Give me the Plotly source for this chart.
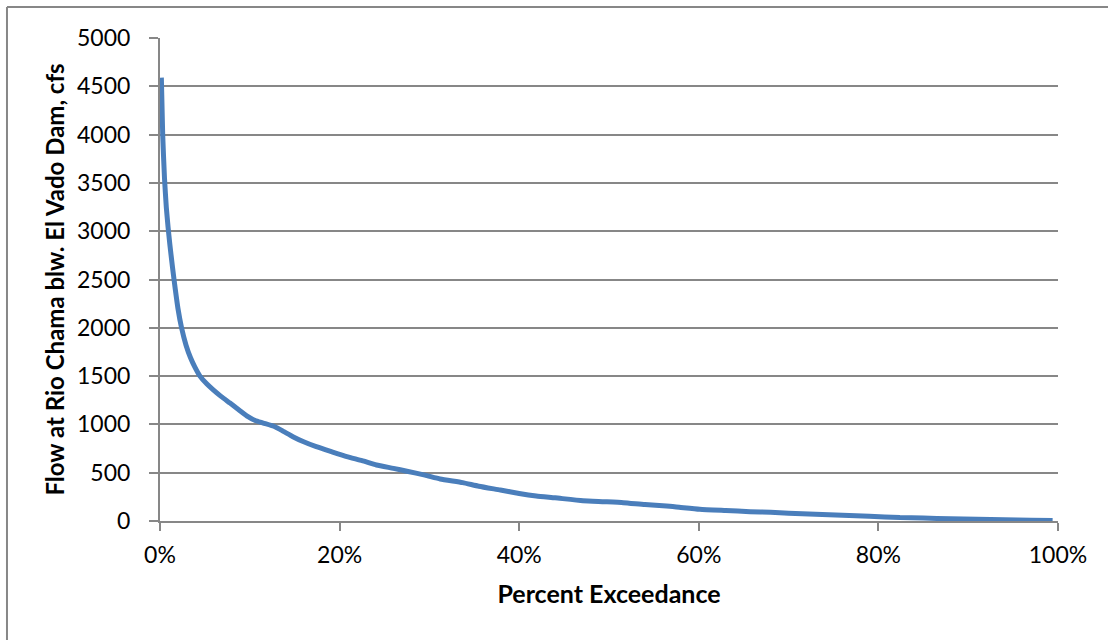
import plotly.graph_objects as go

# Flow duration curve: percent of time a flow is equalled or exceeded
exceedance_pct = [0.15, 0.3, 0.5, 0.7, 0.9, 1.1, 1.4, 1.7, 2.0, 2.4, 2.9, 3.4, 3.9, 4.45,
                  5.2, 5.9, 6.8, 7.8, 8.8, 9.8, 10.6, 11.5, 12.8, 13.8, 14.8, 16, 17.4,
                  19, 20.8, 22.5, 24.1, 26, 27.5, 29.5, 31.2, 33.7, 35.5, 37.9, 40, 41.9,
                  44, 47.1, 49.5, 51.6, 54, 56.4, 58, 60.1, 63, 65.7, 68, 70, 73, 76, 79,
                  82.4, 85, 88, 91, 94, 97, 99.4]
flow_cfs = [4590, 4000, 3550, 3250, 3040, 2860, 2620, 2400, 2200, 2000, 1820, 1690, 1590,
            1500, 1420, 1360, 1290, 1221, 1150, 1080, 1040, 1014, 976, 925, 873, 820, 769,
            720, 666, 625, 580, 545, 515, 475, 435, 397, 360, 321, 285, 259, 240, 210, 200,
            190, 170, 155, 140, 121, 108, 97, 90, 80, 70, 60, 50, 35, 30, 22, 17, 12, 7, 4]

x_ticks = [0, 20, 40, 60, 80, 100]
x_tick_text = ["0%", "20%", "40%", "60%", "80%", "100%"]
y_ticks = list(range(0, 5001, 500))

GRID = "#878787"
FONT = "Lato"

fig = go.Figure(
    go.Scatter(
        x=exceedance_pct,
        y=flow_cfs,
        mode="lines",
        line=dict(color="#4A7EBB", width=5, shape="spline", smoothing=0.5),
        hoverinfo="x+y",
    )
)

fig.update_layout(
    width=1108,
    height=640,
    margin=dict(l=160, r=50, t=38, b=119),
    paper_bgcolor="white",
    plot_bgcolor="white",
    showlegend=False,
    font=dict(family=FONT, color="#000000", size=23),
    xaxis=dict(
        range=[0, 100],
        tickvals=x_ticks,
        ticktext=x_tick_text,
        showgrid=False,
        zeroline=False,
        showline=True,
        linecolor=GRID,
        linewidth=2,
        ticks="outside",
        ticklen=8,
        tickwidth=2,
        tickcolor=GRID,
        tickfont=dict(size=23),
        ticklabelstandoff=4,
        title=dict(text="<b>Percent Exceedance</b>", font=dict(size=25), standoff=19),
    ),
    yaxis=dict(
        range=[0, 5000],
        tickvals=y_ticks,
        showgrid=True,
        gridcolor=GRID,
        gridwidth=2,
        zeroline=False,
        showline=True,
        linecolor=GRID,
        linewidth=2,
        ticks="outside",
        ticklen=9,
        tickwidth=2,
        tickcolor=GRID,
        tickfont=dict(size=23),
        ticklabelstandoff=14,
        title=dict(text="<b>Flow at Rio Chama blw. El Vado Dam, cfs</b>",
                   font=dict(size=24), standoff=6),
    ),
    shapes=[
        # outer chart frame (left and top edges)
        dict(type="line", xref="paper", yref="paper", x0=-0.1704, x1=-0.1704,
             y0=1.0642, y1=-0.26, line=dict(color=GRID, width=2)),
        dict(type="line", xref="paper", yref="paper", x0=-0.1704, x1=1.06,
             y0=1.0642, y1=1.0642, line=dict(color=GRID, width=2)),
    ],
)

fig.write_html("out.html")
